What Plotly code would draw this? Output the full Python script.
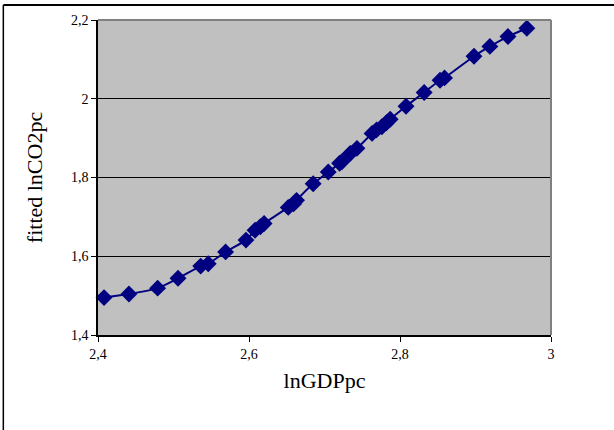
import plotly.graph_objects as go

ln_gdp_pc = [2.408, 2.441, 2.479, 2.506, 2.536, 2.546, 2.569, 2.596, 2.608, 2.615,
             2.620, 2.652, 2.659, 2.663, 2.685, 2.705, 2.720, 2.723, 2.734, 2.743,
             2.763, 2.769, 2.776, 2.782, 2.787, 2.808, 2.832, 2.853, 2.859, 2.898,
             2.919, 2.943, 2.968]
fitted_ln_co2_pc = [1.495, 1.504, 1.519, 1.544, 1.575, 1.581, 1.611, 1.641, 1.666, 1.675,
                    1.683, 1.724, 1.733, 1.742, 1.784, 1.814, 1.836, 1.840, 1.861, 1.874,
                    1.912, 1.921, 1.929, 1.939, 1.948, 1.981, 2.016, 2.047, 2.053, 2.108,
                    2.133, 2.158, 2.179]

x_ticks = [2.4, 2.6, 2.8, 3.0]
y_ticks = [1.4, 1.6, 1.8, 2.0, 2.2]

serif = "Liberation Serif"

fig = go.Figure()
fig.add_trace(go.Scatter(
    x=ln_gdp_pc, y=fitted_ln_co2_pc,
    mode="lines+markers",
    line=dict(color="#000080", width=2, shape="spline", smoothing=0.6),
    marker=dict(symbol="diamond", size=13, color="#000080"),
    showlegend=False,
    cliponaxis=False,
))

fig.update_layout(
    width=614, height=430,
    margin=dict(l=98, r=63, t=20, b=95),
    paper_bgcolor="white",
    plot_bgcolor="#C0C0C0",
    separators=",.",
    font=dict(family=serif, color="black"),
    xaxis=dict(
        range=[2.4, 3.0], tickvals=x_ticks, showgrid=False, zeroline=False,
        showline=True, linecolor="black", linewidth=1.5,
        ticks="outside", ticklen=5, tickcolor="black",
        tickfont=dict(size=14, family=serif),
        title=dict(text="lnGDPpc", font=dict(size=22, family=serif), standoff=12),
    ),
    yaxis=dict(
        range=[1.4, 2.2], tickvals=y_ticks, showgrid=True, gridcolor="black", gridwidth=1,
        zeroline=False, showline=True, linecolor="black", linewidth=1.5,
        ticks="outside", ticklen=5, tickcolor="black",
        tickfont=dict(size=14, family=serif),
        title=dict(text="fitted lnCO2pc", font=dict(size=22, family=serif), standoff=22),
    ),
    shapes=[
        dict(type="line", xref="paper", yref="paper", x0=0, x1=1, y0=1, y1=1,
             line=dict(color="#808080", width=2)),
        dict(type="line", xref="paper", yref="paper", x0=1, x1=1, y0=0, y1=1,
             line=dict(color="#808080", width=2)),
        dict(type="line", xref="paper", yref="paper", x0=-0.209, x1=-0.209, y0=-0.35, y1=1.0476,
             line=dict(color="black", width=1.5)),
        dict(type="line", xref="paper", yref="paper", x0=-0.209, x1=1.2, y0=1.0476, y1=1.0476,
             line=dict(color="black", width=2)),
    ],
)

fig.write_html("out.html", config={"displayModeBar": False},
               post_script="document.body.style.margin='0';")
